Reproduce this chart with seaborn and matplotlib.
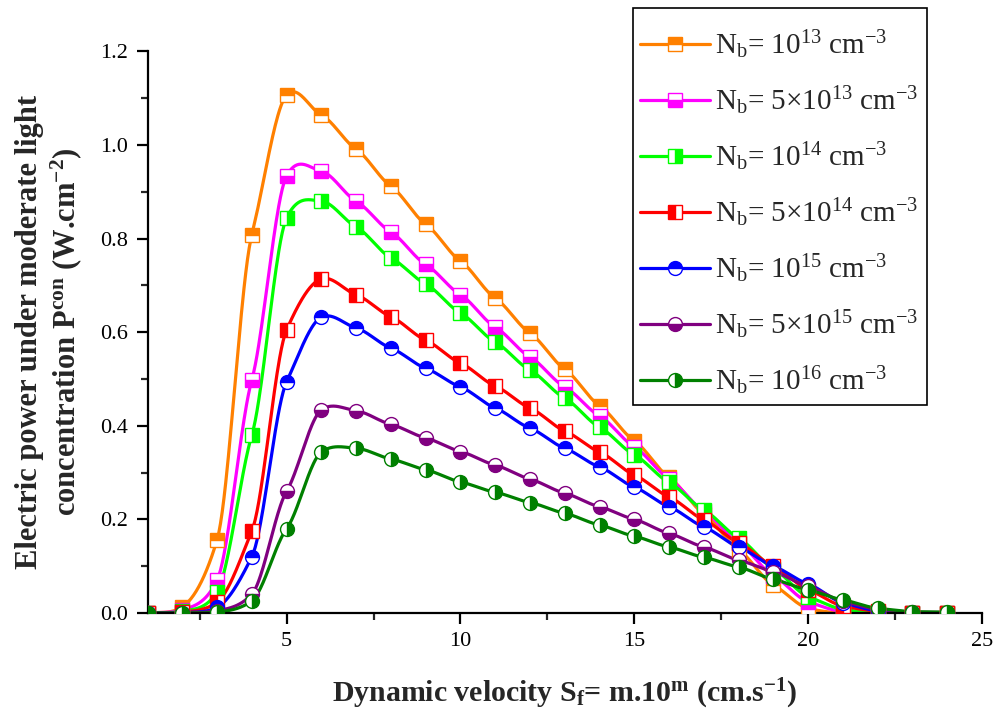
import numpy as np
import pandas as pd
import matplotlib
matplotlib.use("Agg")
import matplotlib.pyplot as plt
from matplotlib.lines import Line2D
from matplotlib.patches import Rectangle
import seaborn as sns

# Dynamic velocity index m (S_f = m.10^m)
velocity = [1, 2, 3, 4, 5, 6, 7, 8, 9, 10, 11, 12, 13, 14, 15, 16, 17, 18, 19, 20, 21, 22, 23, 24]

# Electric power P_con (W.cm^-2) for each base doping level
p_1e13 = [0, 0.013, 0.156, 0.808, 1.107, 1.064, 0.991, 0.912, 0.831, 0.752, 0.673, 0.598,
          0.521, 0.443, 0.368, 0.290, 0.212, 0.135, 0.060, 0.010, 0, 0, 0, 0]
p_5e13 = [0, 0.007, 0.070, 0.498, 0.934, 0.944, 0.880, 0.814, 0.745, 0.680, 0.611, 0.547,
          0.483, 0.421, 0.355, 0.287, 0.218, 0.150, 0.080, 0.024, 0.003, 0, 0, 0]
p_1e14 = [0, 0.004, 0.045, 0.380, 0.844, 0.880, 0.825, 0.759, 0.703, 0.641, 0.579, 0.519,
          0.459, 0.397, 0.338, 0.279, 0.220, 0.160, 0.095, 0.035, 0.008, 0, 0, 0]
p_5e14 = [0, 0.002, 0.023, 0.175, 0.605, 0.714, 0.680, 0.633, 0.583, 0.534, 0.485, 0.438,
          0.389, 0.344, 0.295, 0.248, 0.199, 0.150, 0.100, 0.050, 0.015, 0.004, 0.001, 0]
p_1e15 = [0, 0.001, 0.012, 0.120, 0.494, 0.632, 0.609, 0.566, 0.523, 0.483, 0.438, 0.395,
          0.352, 0.312, 0.269, 0.227, 0.184, 0.141, 0.100, 0.062, 0.022, 0.005, 0.001, 0]
p_5e15 = [0, 0, 0.005, 0.040, 0.260, 0.434, 0.432, 0.403, 0.374, 0.345, 0.316, 0.286,
          0.256, 0.227, 0.200, 0.170, 0.141, 0.113, 0.088, 0.057, 0.025, 0.008, 0.002, 0.001]
p_1e16 = [0, 0, 0.002, 0.026, 0.180, 0.344, 0.352, 0.329, 0.306, 0.280, 0.258, 0.236,
          0.213, 0.188, 0.164, 0.141, 0.119, 0.098, 0.072, 0.049, 0.028, 0.010, 0.003, 0.002]

labels = [
    r"N$_\mathregular{b}$= 10$^\mathregular{13}$ cm$^\mathregular{-3}$",
    r"N$_\mathregular{b}$= 5×10$^\mathregular{13}$ cm$^\mathregular{-3}$",
    r"N$_\mathregular{b}$= 10$^\mathregular{14}$ cm$^\mathregular{-3}$",
    r"N$_\mathregular{b}$= 5×10$^\mathregular{14}$ cm$^\mathregular{-3}$",
    r"N$_\mathregular{b}$= 10$^\mathregular{15}$ cm$^\mathregular{-3}$",
    r"N$_\mathregular{b}$= 5×10$^\mathregular{15}$ cm$^\mathregular{-3}$",
    r"N$_\mathregular{b}$= 10$^\mathregular{16}$ cm$^\mathregular{-3}$",
]
series = [p_1e13, p_5e13, p_1e14, p_5e14, p_1e15, p_5e15, p_1e16]
colors = ["#FF8000", "#FF00FF", "#00FF00", "#FF0000", "#0000FF", "#800080", "#008000"]
markers = ["s", "s", "s", "s", "o", "o", "o"]
fills = ["top", "bottom", "right", "left", "top", "bottom", "right"]


def cardinal_spline(x, y, scale=0.62, per_seg=40):
    """Cardinal (Catmull-Rom type) Hermite curve through (x, y) for a smooth connecting line."""
    x = np.asarray(x, float)
    y = np.asarray(y, float)
    k = len(x)
    m = np.empty(k)
    m[1:-1] = (y[2:] - y[:-2]) / (x[2:] - x[:-2])
    m[0] = (y[1] - y[0]) / (x[1] - x[0])
    m[-1] = (y[-1] - y[-2]) / (x[-1] - x[-2])
    m *= scale
    xs_all, ys_all = [], []
    for i in range(k - 1):
        h = x[i + 1] - x[i]
        t = np.linspace(0, 1, per_seg, endpoint=(i == k - 2))
        h00 = 2 * t ** 3 - 3 * t ** 2 + 1
        h10 = t ** 3 - 2 * t ** 2 + t
        h01 = -2 * t ** 3 + 3 * t ** 2
        h11 = t ** 3 - t ** 2
        xs_all.append(x[i] + t * h)
        ys_all.append(h00 * y[i] + h10 * h * m[i] + h01 * y[i + 1] + h11 * h * m[i + 1])
    return np.concatenate(xs_all), np.concatenate(ys_all)


sns.set_theme(style="ticks")
plt.rcParams["font.family"] = ["Liberation Serif", "DejaVu Serif"]
plt.rcParams["mathtext.fontset"] = "custom"
plt.rcParams["mathtext.rm"] = "Liberation Serif"
plt.rcParams["mathtext.it"] = "Liberation Serif:italic"
plt.rcParams["mathtext.bf"] = "Liberation Serif:bold"

W, H = 1005, 717
fig = plt.figure(figsize=(W / 100, H / 100), dpi=100)
ax = fig.add_axes([147.5 / W, 1 - 613 / H, 834.5 / W, 561.6 / H])

# smooth connecting curves
frames = []
for lab, ys in zip(labels, series):
    xs_d, ys_d = cardinal_spline(velocity, ys)
    frames.append(pd.DataFrame({"m": xs_d, "P": ys_d, "Nb": lab}))
curves = pd.concat(frames, ignore_index=True)
sns.lineplot(data=curves, x="m", y="P", hue="Nb", hue_order=labels,
             palette=colors, linewidth=2.3, legend=False, ax=ax, sort=False,
             estimator=None)

# half-filled markers on the computed points
handles = []
for lab, ys, c, mk, fs in zip(labels, series, colors, markers, fills):
    ax.plot(velocity, ys, linestyle="none", marker=mk, markersize=10,
            fillstyle=fs, markerfacecolor=c, markerfacecoloralt="white",
            markeredgecolor=c, markeredgewidth=1.0, clip_on=True, zorder=3)
    handles.append(Line2D([], [], color=c, linewidth=2.3, marker=mk, markersize=10,
                          fillstyle=fs, markerfacecolor=c, markerfacecoloralt="white",
                          markeredgecolor=c, markeredgewidth=1.0))

ax.set_xlim(1, 25)
ax.set_ylim(0, 1.2)
ax.set_xticks([5, 10, 15, 20, 25])
ax.set_xticks([2.5, 7.5, 12.5, 17.5, 22.5], minor=True)
ax.set_yticks([0.0, 0.2, 0.4, 0.6, 0.8, 1.0, 1.2])
ax.set_yticks([0.1, 0.3, 0.5, 0.7, 0.9, 1.1], minor=True)
ax.yaxis.set_major_formatter(matplotlib.ticker.FormatStrFormatter("%.1f"))

for side in ("top", "right"):
    ax.spines[side].set_visible(False)
for side in ("left", "bottom"):
    ax.spines[side].set_linewidth(1.6)
    ax.spines[side].set_color("black")
ax.tick_params(which="major", direction="out", length=8, width=1.6, labelsize=16,
               colors="black", pad=6)
ax.tick_params(which="minor", direction="out", length=5, width=1.6)

ax.set_xlabel(r"Dynamic velocity S$_\mathbf{f}$= m.10$^\mathbf{m}$ (cm.s$^\mathbf{-1}$)",
              fontsize=21.5, fontweight="bold", labelpad=18)
ax.set_ylabel("Electric power under moderate light\n"
              r"concentration P$^\mathbf{con}$ (W.cm$^\mathbf{-2}$)",
              fontsize=22, fontweight="bold", labelpad=12, linespacing=1.15)

# legend entries, with a plain rectangular frame around them
leg = fig.legend(handles, labels, loc="upper left",
                 bbox_to_anchor=(640 / W, 1 - 28 / H), fontsize=21,
                 frameon=False, handlelength=2.4, handletextpad=0.17,
                 labelspacing=0.8, borderpad=0, borderaxespad=0)
fig.patches.append(Rectangle((633 / W, 1 - 405 / H), 294 / W, 397 / H,
                             transform=fig.transFigure, facecolor="none",
                             edgecolor="black", linewidth=1.2, zorder=5))

fig.savefig("out.png", dpi=100)
